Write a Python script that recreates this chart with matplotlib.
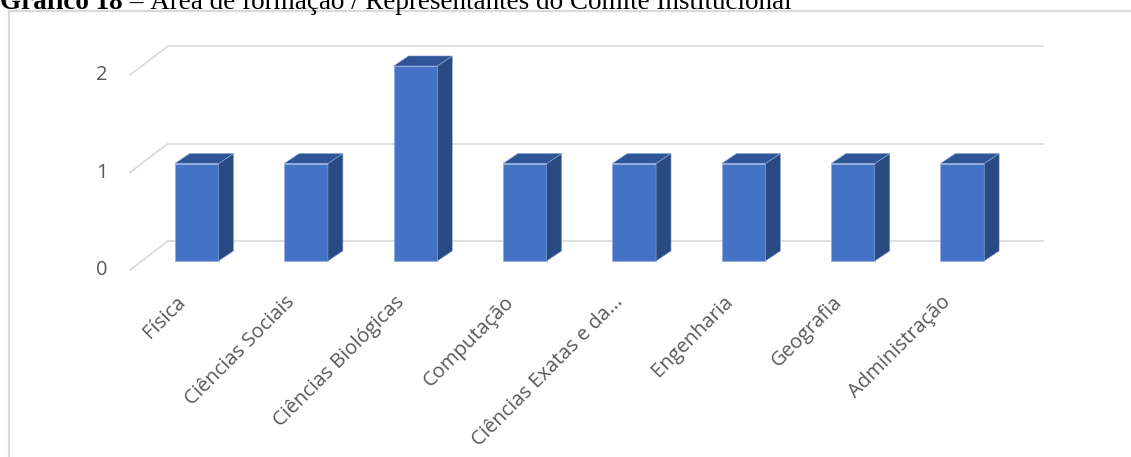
import matplotlib
matplotlib.use("Agg")
import matplotlib.pyplot as plt
from matplotlib.patches import Polygon
from matplotlib.lines import Line2D

# dados do gráfico
areas = ["Física", "Ciências Sociais", "Ciências Biológicas", "Computação",
         "Ciências Exatas e da...", "Engenharia", "Geografia", "Administração"]
representantes = [1, 1, 2, 1, 1, 1, 1, 1]
y_ticks = [0, 1, 2]

titulo_num = "Gráfico 18"
titulo_txt = " – Área de formação / Representantes do Comitê Institucional"

# cores
FACE = "#4472C4"
SIDE = "#2A4A84"
TOP = "#2F5597"
EDGE = "#8FAADC"
GRID = "#D9D9D9"
TXT = "#595959"

# deslocamentos da perspectiva (unidades de dados)
BAR_DX, BAR_DY = 0.137, 0.103      # profundidade das barras
WALL_DX, WALL_DY = 0.238, 0.205    # parede do fundo
FRONT_DX, FRONT_DY = -0.11, -0.092  # borda frontal do piso
BAR_W = 0.4

W, H = 1131, 457
fig = plt.figure(figsize=(W / 100, H / 100), dpi=100)
ax = fig.add_axes([142 / W, (H - 261) / H, 875 / W, 195 / H])
ax.set_xlim(-0.5, len(areas) - 0.5)
ax.set_ylim(0, 2)
ax.axis("off")

font = "Open Sans"
fsize = 14.5

# linhas de grade: diagonal do piso + horizontal na parede
x_left = -0.5
x_right = len(areas) - 0.5
for v in y_ticks:
    ax.plot([x_left + FRONT_DX, x_left + WALL_DX], [v + FRONT_DY, v + WALL_DY],
            color=GRID, lw=1.2, clip_on=False, zorder=1)
    ax.plot([x_left + WALL_DX, x_right + WALL_DX], [v + WALL_DY, v + WALL_DY],
            color=GRID, lw=1.2, clip_on=False, zorder=1)
    ax.annotate(str(v), xy=(x_left, v), xytext=(-40, -9), textcoords="offset pixels",
                ha="center", va="center", fontsize=fsize, color=TXT, family=font,
                annotation_clip=False)

# barras 3D: frente, lateral e topo
xs = list(range(len(areas)))
ax.bar(xs, representantes, width=BAR_W, color=FACE, edgecolor=EDGE,
       linewidth=0.5, zorder=3, clip_on=False)
for x, v in zip(xs, representantes):
    x0, x1 = x - BAR_W / 2, x + BAR_W / 2
    side = Polygon([(x1, 0), (x1 + BAR_DX, BAR_DY), (x1 + BAR_DX, v + BAR_DY), (x1, v)],
                   closed=True, facecolor=SIDE, edgecolor=EDGE, lw=0.4,
                   zorder=3, clip_on=False)
    top = Polygon([(x0, v), (x1, v), (x1 + BAR_DX, v + BAR_DY), (x0 + BAR_DX, v + BAR_DY)],
                  closed=True, facecolor=TOP, edgecolor=EDGE, lw=0.4,
                  zorder=3, clip_on=False)
    ax.add_patch(side)
    ax.add_patch(top)

# rótulos das categorias inclinados
for x, nome in zip(xs, areas):
    ax.annotate(nome, xy=(x, 0), xytext=(-7, -31), textcoords="offset pixels",
                ha="right", va="top", rotation=45, fontsize=fsize, color=TXT,
                family=font, annotation_clip=False)

# moldura da área do gráfico
fx, fy = 8.5 / W, 1 - 10.5 / H
fig.add_artist(Line2D([fx, fx], [0, fy], color=GRID, lw=1.6))
fig.add_artist(Line2D([fx, 1.0], [fy, fy], color=GRID, lw=1.6))

# título (parcialmente cortado no topo)
ty = 1 - 9 / H
t1 = fig.text(0.0, ty, titulo_num, fontsize=19.5, fontweight="bold",
              family="Liberation Serif", va="baseline", ha="left")
r = fig.canvas.get_renderer()
bb = t1.get_window_extent(renderer=r)
fig.text(bb.x1 / W, ty, titulo_txt, fontsize=19.5, family="Liberation Serif",
         va="baseline", ha="left")

fig.savefig("out.png", dpi=100)
